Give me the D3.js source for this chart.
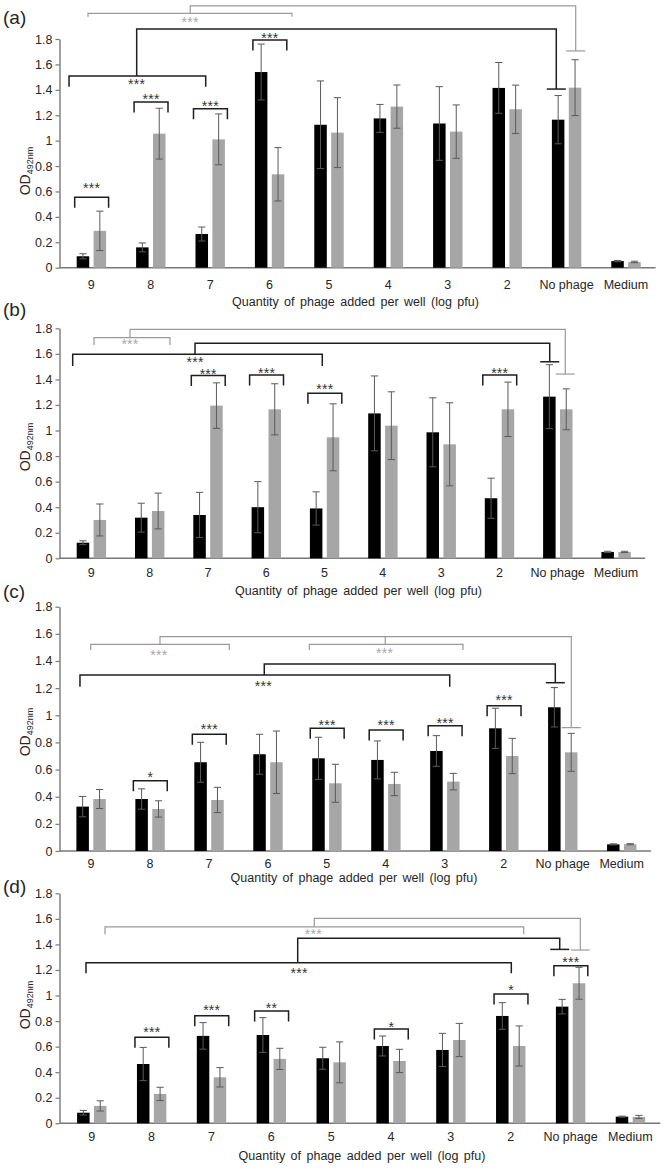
<!DOCTYPE html>
<html><head><meta charset="utf-8">
<script src="https://cdnjs.cloudflare.com/ajax/libs/d3/7.8.5/d3.min.js"></script>
<style>
html,body{margin:0;padding:0;background:#fff;}
svg{display:block;font-family:"Liberation Sans",Arial,Helvetica,sans-serif;}
</style></head>
<body>
<script>
// ---------- DATA ----------
const categories = ["9","8","7","6","5","4","3","2","No phage","Medium"];
const yTicks = [0,0.2,0.4,0.6,0.8,1,1.2,1.4,1.6,1.8];
const xTitle = "Quantity of phage added per well (log pfu)";

const aBlack    = [0.09,0.16,0.265,1.54,1.125,1.175,1.135,1.415,1.165,0.052];
const aBlackErr = [0.02,0.035,0.055,0.22,0.345,0.11,0.29,0.2,0.19,0.005];
const aGrey     = [0.29,1.055,1.01,0.735,1.063,1.268,1.071,1.247,1.417,0.045];
const aGreyErr  = [0.155,0.2,0.2,0.21,0.275,0.17,0.21,0.19,0.22,0.006];

const bBlack    = [0.122,0.318,0.339,0.40,0.39,1.134,0.986,0.47,1.265,0.05];
const bBlackErr = [0.015,0.113,0.177,0.2,0.13,0.293,0.27,0.157,0.25,0.005];
const bGrey     = [0.30,0.37,1.195,1.166,0.947,1.038,0.892,1.166,1.166,0.05];
const bGreyErr  = [0.125,0.14,0.178,0.2,0.262,0.265,0.325,0.213,0.16,0.005];

const cBlack    = [0.327,0.383,0.654,0.713,0.683,0.671,0.737,0.904,1.059,0.049];
const cBlackErr = [0.075,0.075,0.147,0.147,0.155,0.14,0.113,0.148,0.145,0.004];
const cGrey     = [0.383,0.31,0.376,0.654,0.499,0.494,0.511,0.70,0.727,0.05];
const cGreyErr  = [0.07,0.06,0.093,0.23,0.14,0.086,0.061,0.13,0.14,0.004];

const dBlack    = [0.083,0.464,0.684,0.691,0.509,0.605,0.574,0.84,0.913,0.052];
const dBlackErr = [0.018,0.13,0.104,0.136,0.086,0.078,0.13,0.104,0.057,0.004];
const dGrey     = [0.136,0.23,0.36,0.504,0.477,0.488,0.652,0.605,1.096,0.05];
const dGreyErr  = [0.04,0.052,0.076,0.083,0.16,0.091,0.13,0.157,0.125,0.012];

// significance brackets between the two series of one category
const aPairs = [{cat:"9",y:0.554,ly:0.651,label:"***"},{cat:"8",y:1.304,ly:1.346,label:"***"},
                {cat:"7",y:1.252,ly:1.294,label:"***"},{cat:"6",y:1.792,ly:1.832,label:"***"}];
const bPairs = [{cat:"7",y:1.43,ly:1.466,label:"***"},{cat:"6",y:1.435,ly:1.474,label:"***"},
                {cat:"5",y:1.291,ly:1.348,label:"***"},{cat:"2",y:1.435,ly:1.474,label:"***"}];
const cPairs = [{cat:"8",y:0.518,ly:0.565,label:"*"},{cat:"7",y:0.86,ly:0.916,label:"***"},
                {cat:"5",y:0.904,ly:0.951,label:"***"},{cat:"4",y:0.892,ly:0.948,label:"***"},
                {cat:"3",y:0.923,ly:0.965,label:"***"},{cat:"2",y:1.071,ly:1.13,label:"***"}];
const dPairs = [{cat:"8",y:0.673,ly:0.736,label:"***"},{cat:"7",y:0.842,ly:0.905,label:"***"},
                {cat:"6",y:0.879,ly:0.926,label:"**"},{cat:"4",y:0.738,ly:0.777,label:"*"},
                {cat:"2",y:1.012,ly:1.064,label:"*"},{cat:"No phage",y:1.233,ly:1.283,label:"***"}];

// group brackets: x in category-index units, y in OD units
const aSpans = [{x1:-0.056,x2:3.378,y:2.002,yb:1.976,lx:1.665,ly:1.955,label:"***",tone:"grey"},
                {x1:-0.375,x2:1.926,y:1.509,yb:1.425,lx:0.764,ly:1.470,label:"***",tone:"black"}];
const aLinks = [{pts:[[1.665,2.002],[1.665,2.06],[8.155,2.06],[8.155,1.706]],tone:"grey",cap:true},
                {pts:[[0.764,1.509],[0.764,1.879],[7.828,1.879],[7.828,1.406]],tone:"black",cap:true}];
const bSpans = [{x1:0.046,x2:1.35,y:1.727,yb:1.67,lx:0.664,ly:1.695,label:"***",tone:"grey"},
                {x1:-0.319,x2:3.962,y:1.597,yb:1.505,lx:1.779,ly:1.56,label:"***",tone:"black"}];
const bLinks = [{pts:[[0.664,1.727],[0.664,1.792],[8.13,1.792],[8.13,1.442]],tone:"grey",cap:true},
                {pts:[[1.779,1.597],[1.779,1.683],[7.863,1.683],[7.863,1.538]],tone:"black",cap:true}];
const cSpans = [{x1:-0.005,x2:2.346,y:1.523,yb:1.481,lx:1.153,ly:1.464,label:"***",tone:"grey"},
                {x1:3.703,x2:6.309,y:1.523,yb:1.481,lx:4.981,ly:1.481,label:"***",tone:"grey"},
                {x1:-0.187,x2:6.084,y:1.297,yb:1.211,lx:2.922,ly:1.236,label:"***",tone:"black"}];
const cLinks = [{pts:[[1.17,1.523],[1.17,1.579],[8.146,1.579],[8.146,0.909]],tone:"grey",cap:true},
                {pts:[[4.99,1.523],[4.99,1.579]],tone:"grey",cap:false},
                {pts:[[2.939,1.297],[2.939,1.378],[7.875,1.378],[7.875,1.24]],tone:"black",cap:true}];
const dSpans = [{x1:0.222,x2:7.218,y:1.538,yb:1.479,lx:3.703,ly:1.499,label:"***",tone:"grey"},
                {x1:-0.095,x2:7.011,y:1.257,yb:1.174,lx:3.464,ly:1.2,label:"***",tone:"black"}];
const dLinks = [{pts:[[3.719,1.538],[3.719,1.604],[8.164,1.604],[8.164,1.356]],tone:"grey",cap:true},
                {pts:[[3.442,1.257],[3.442,1.448],[7.82,1.448],[7.82,1.361]],tone:"black",cap:true}];

// ---------- LAYOUT ----------
const layout = {
  a:{top:39,   zero:267.7, pc0:91.3, step:59.4,  labelY:285,  titleY:301.5, titleX:355.5, tag:[3,18],    yTitle:171},
  b:{top:328.3,zero:558.3, pc0:91.3, step:58.3,  labelY:573,  titleY:591,   titleX:358.5, tag:[3,310],   yTitle:447},
  c:{top:606.7,zero:851,   pc0:91,   step:58.96, labelY:864,  titleY:878,   titleX:354,   tag:[3,591.7], yTitle:732},
  d:{top:893.3,zero:1123.3,pc0:91.7, step:59.85, labelY:1137, titleY:1156,  titleX:362,   tag:[3,886.7], yTitle:1005}
};
const panels = [
  {id:"a",black:aBlack,blackErr:aBlackErr,grey:aGrey,greyErr:aGreyErr,pairs:aPairs,spans:aSpans,links:aLinks},
  {id:"b",black:bBlack,blackErr:bBlackErr,grey:bGrey,greyErr:bGreyErr,pairs:bPairs,spans:bSpans,links:bLinks},
  {id:"c",black:cBlack,blackErr:cBlackErr,grey:cGrey,greyErr:cGreyErr,pairs:cPairs,spans:cSpans,links:cLinks},
  {id:"d",black:dBlack,blackErr:dBlackErr,grey:dGrey,greyErr:dGreyErr,pairs:dPairs,spans:dSpans,links:dLinks}
];

const W=666,H=1169, axisX=59.5;
const FONT = '"Liberation Sans",Arial,Helvetica,sans-serif';
const COL = {black:"#000000", grey:"#a6a6a6", err:"#5a5a5a", axis:"#777777", text:"#262626",
             brkBlack:"#1e1e1e", brkGrey:"#9a9a9a", starBlack:"#333333", starGrey:"#a8a8a8"};

const svg = d3.select("body").append("svg").attr("width",W).attr("height",H).attr("font-family",FONT);
svg.append("rect").attr("width",W).attr("height",H).attr("fill","#fff");

panels.forEach(p=>{
  const L = layout[p.id];
  const x0 = L.pc0 - L.step/2, x1 = L.pc0 + 9.5*L.step;
  const xb = d3.scaleBand().domain(categories).range([x0,x1]).padding(0);
  const xi = d3.scaleLinear().domain([-0.5,9.5]).range([x0,x1]);
  const xs = d3.scaleBand().domain(["black","grey"]).range([-14.6,14.8]).paddingInner(0.26);
  const y  = d3.scaleLinear().domain([0,1.8]).range([L.zero,L.top]);
  const cx = c => xb(c) + xb.bandwidth()/2;
  const g = svg.append("g");

  // panel tag
  g.append("text").attr("x",L.tag[0]).attr("y",L.tag[1]).attr("dy","0.33em")
    .attr("font-size",19).attr("fill",COL.text).text(`(${p.id})`);

  // y axis
  const ya = d3.axisLeft(y).tickValues(yTicks).tickFormat(d=>String(+d.toFixed(1)))
    .tickSize(4).tickSizeOuter(0).tickPadding(3);
  const yg = g.append("g").attr("transform",`translate(${axisX},0)`).call(ya)
    .attr("font-family",FONT).attr("font-size",12.5);
  yg.select(".domain").attr("stroke",COL.axis).attr("stroke-width",1.4);
  yg.selectAll(".tick line").attr("stroke",COL.axis).attr("stroke-width",1.2);
  yg.selectAll(".tick text").attr("fill",COL.text);

  // y title
  const yt = g.append("text").attr("transform",`translate(30,${L.yTitle}) rotate(-90)`)
    .attr("text-anchor","middle").attr("fill",COL.text).attr("font-size",14);
  yt.append("tspan").text("OD");
  yt.append("tspan").attr("font-size",9).attr("dy","0.35em").text("492nm");

  // x axis
  const xa = d3.axisBottom(xb).tickSize(0).tickSizeOuter(0);
  const xg = g.append("g").attr("transform",`translate(0,${L.zero})`).call(xa)
    .attr("font-family",FONT).attr("font-size",12.5);
  xg.select(".domain").remove();
  xg.selectAll(".tick text").attr("fill",COL.text)
    .attr("y",L.labelY-L.zero).attr("dy","0.35em");
  g.append("line").attr("x1",axisX).attr("x2",x1).attr("y1",L.zero).attr("y2",L.zero)
    .attr("stroke",COL.axis).attr("stroke-width",1.4);

  // x title
  g.append("text").attr("x",L.titleX).attr("y",L.titleY).attr("dy","0.35em")
    .attr("text-anchor","middle").attr("font-size",12.5).attr("word-spacing",2)
    .attr("fill",COL.text).text(xTitle);

  // bars
  const rows = [];
  categories.forEach((c,i)=>{
    rows.push({c,s:"black",v:p.black[i],e:p.blackErr[i]});
    rows.push({c,s:"grey", v:p.grey[i], e:p.greyErr[i]});
  });
  g.selectAll("rect.bar").data(rows).join("rect").attr("class","bar")
    .attr("x",d=>cx(d.c)+xs(d.s)).attr("width",xs.bandwidth())
    .attr("y",d=>y(d.v)).attr("height",d=>y(0)-y(d.v))
    .attr("fill",d=>COL[d.s]);

  // error bars
  const eg = g.selectAll("g.err").data(rows).join("g").attr("class","err")
    .attr("stroke",COL.err).attr("stroke-width",1);
  const bc = d=>cx(d.c)+xs(d.s)+xs.bandwidth()/2;
  eg.append("line").attr("x1",bc).attr("x2",bc).attr("y1",d=>y(d.v-d.e)).attr("y2",d=>y(d.v+d.e));
  eg.append("line").attr("x1",d=>bc(d)-3.6).attr("x2",d=>bc(d)+3.6).attr("y1",d=>y(d.v+d.e)).attr("y2",d=>y(d.v+d.e));
  eg.append("line").attr("x1",d=>bc(d)-3.6).attr("x2",d=>bc(d)+3.6).attr("y1",d=>y(d.v-d.e)).attr("y2",d=>y(d.v-d.e));

  const SF = 14;
  const star = (sel,x,yy,label,tone)=>sel.append("text").attr("x",x).attr("y",yy+0.55*SF)
    .attr("text-anchor","middle").attr("font-size",SF).attr("letter-spacing",0.3)
    .attr("fill",tone==="grey"?COL.starGrey:COL.starBlack).text(label);

  // pair brackets
  p.pairs.forEach(b=>{
    const xl = cx(b.cat)+xs("black")-2, xr = cx(b.cat)+xs("grey")+xs.bandwidth()+2.5;
    const yy = y(b.y);
    g.append("path").attr("d",`M${xl},${yy+10.5}V${yy}H${xr}V${yy+10.5}`)
      .attr("fill","none").attr("stroke",COL.brkBlack).attr("stroke-width",1.5);
    star(g,(xl+xr)/2,y(b.ly),b.label,"black");
  });

  // group spans
  p.spans.forEach(s=>{
    const st = s.tone==="grey"?COL.brkGrey:COL.brkBlack;
    g.append("path").attr("d",`M${xi(s.x1)},${y(s.yb)}V${y(s.y)}H${xi(s.x2)}V${y(s.yb)}`)
      .attr("fill","none").attr("stroke",st).attr("stroke-width",s.tone==="grey"?1.2:1.5);
    star(g,xi(s.lx),y(s.ly),s.label,s.tone);
  });

  // connector links
  p.links.forEach(k=>{
    const st = k.tone==="grey"?COL.brkGrey:COL.brkBlack;
    const line = d3.line().x(d=>xi(d[0])).y(d=>y(d[1]));
    g.append("path").attr("d",line(k.pts)).attr("fill","none").attr("stroke",st)
      .attr("stroke-width",k.tone==="grey"?1.2:1.5);
    if(k.cap){
      const last = k.pts[k.pts.length-1];
      g.append("line").attr("x1",xi(last[0])-9.5).attr("x2",xi(last[0])+9.5)
        .attr("y1",y(last[1])).attr("y2",y(last[1])).attr("stroke",st)
        .attr("stroke-width",k.tone==="grey"?1.2:1.5);
    }
  });
});
</script>
</body></html>
